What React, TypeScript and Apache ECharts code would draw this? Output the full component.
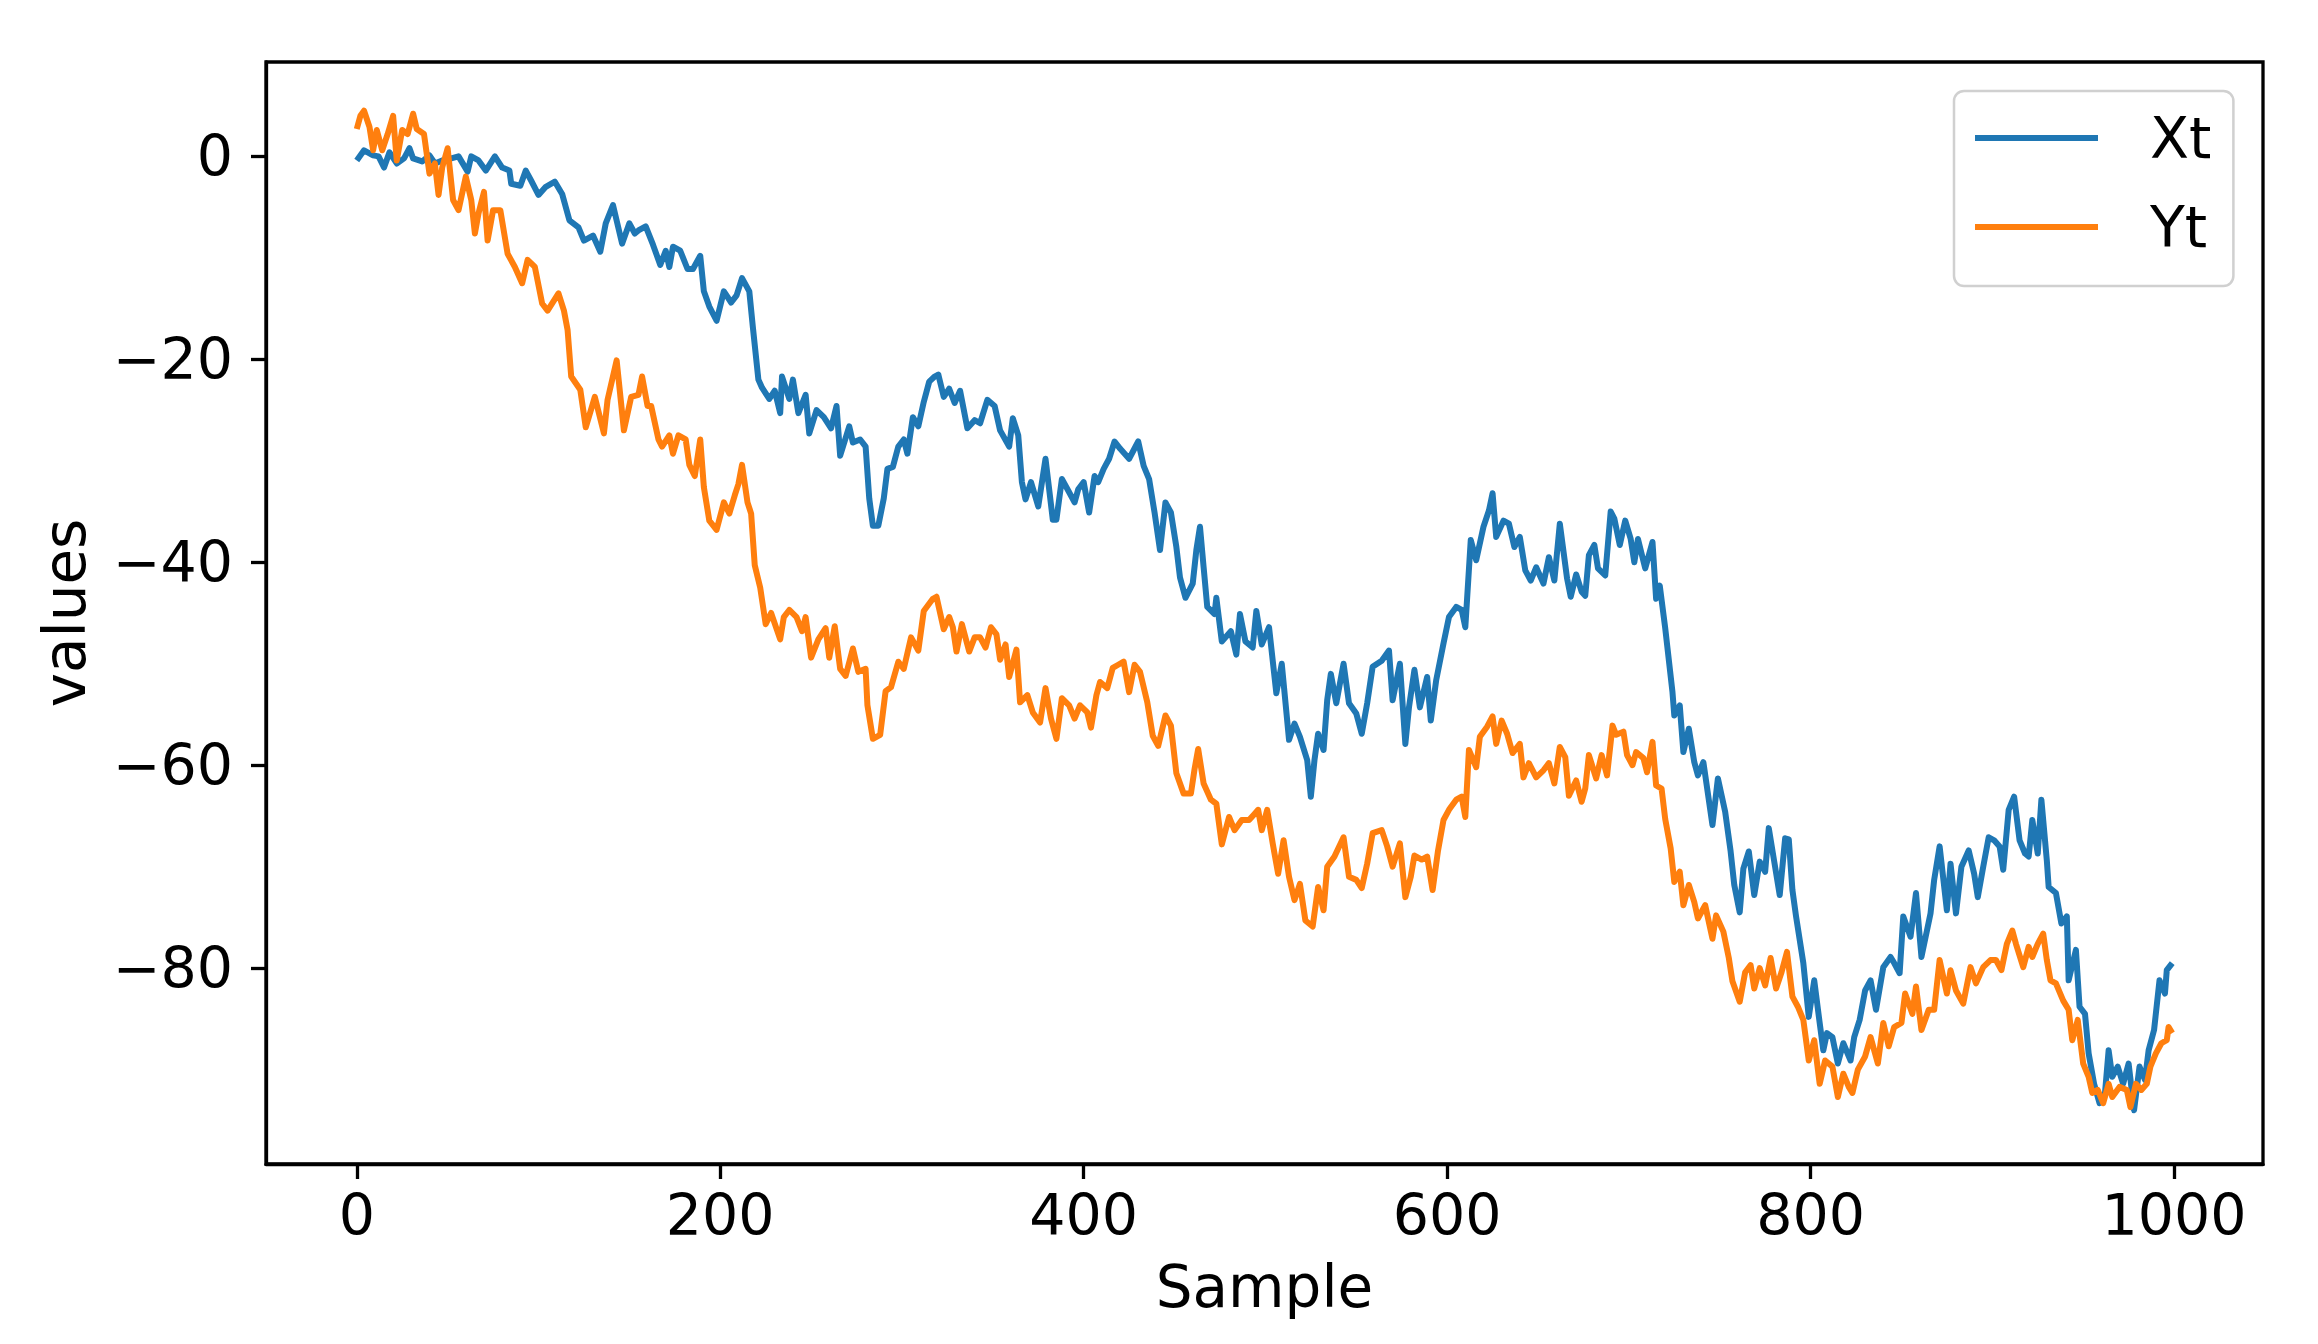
import React, { useEffect, useRef } from "react";
import * as echarts from "echarts";

const seriesNames = ["Xt", "Yt"];
const seriesColors = ["#1f77b4", "#ff7f0e"];
const xTickValues = [0, 200, 400, 600, 800, 1000];
const yTickValues = [-80, -60, -40, -20, 0];
const xAxisTitle = "Sample";
const yAxisTitle = "values";

// [sample, value]
const xtPoints = [
  [0,-0.4],[4,0.6],[9,0.1],[12,0],[15,-1.1],[18,0.4],[22,-0.7],[26,-0.2],[29,0.8],[31,-0.2],[36,-0.5],[40,0.1],[43,-0.7],[47,-0.4],[52,-0.2],[56,0],[61,-1.5],[63,0],[67,-0.4],[71,-1.4],[76,0],[80,-1.1],[84,-1.4],[85,-2.7],[90,-2.9],[93,-1.4],[96,-2.4],[100,-3.8],[104,-3.0],[109,-2.5],[113,-3.7],[117,-6.3],[122,-7.0],[125,-8.3],[130,-7.8],[134,-9.4],[137,-6.6],[141,-4.8],[146,-8.6],[150,-6.6],[153,-7.6],[155,-7.3],[159,-6.9],[163,-8.7],[167,-10.7],[170,-9.3],[172,-10.9],[174,-8.9],[178,-9.3],[182,-11.1],[185,-11.1],[189,-9.8],[191,-13.3],[194,-14.8],[198,-16.2],[202,-13.3],[206,-14.4],[209,-13.7],[212,-12.0],[216,-13.3],[218,-16.9],[221,-22.0],[223,-22.8],[227,-23.9],[230,-23.1],[233,-25.3],[234,-21.7],[238,-23.9],[240,-22.0],[243,-25.3],[247,-23.5],[249,-27.3],[253,-25.0],[257,-25.7],[261,-26.8],[264,-24.6],[266,-29.5],[271,-26.6],[273,-28.2],[277,-27.9],[280,-28.6],[282,-33.7],[284,-36.4],[287,-36.4],[290,-33.7],[292,-30.8],[295,-30.6],[298,-28.6],[301,-27.9],[303,-29.3],[306,-25.7],[309,-26.6],[312,-24.2],[315,-22.2],[318,-21.7],[320,-21.5],[323,-23.7],[326,-22.9],[329,-24.3],[332,-23.1],[336,-26.8],[340,-26.0],[343,-26.3],[347,-24.0],[351,-24.6],[354,-27.0],[359,-28.6],[361,-25.8],[364,-27.5],[366,-32.1],[368,-33.8],[371,-32.1],[375,-34.5],[379,-29.8],[383,-35.8],[385,-35.8],[388,-31.8],[392,-33.1],[395,-34.1],[397,-32.8],[400,-32.1],[403,-35.1],[406,-31.5],[408,-32.1],[411,-30.8],[414,-29.8],[417,-28.1],[420,-28.8],[425,-29.8],[430,-28.1],[433,-30.5],[436,-31.8],[439,-35.1],[442,-38.8],[445,-34.1],[448,-35.1],[451,-38.5],[453,-41.5],[456,-43.5],[460,-42.1],[462,-38.8],[464,-36.5],[466,-40.5],[468,-44.4],[472,-45.1],[473,-43.5],[476,-47.8],[481,-46.8],[484,-49.1],[486,-45.1],[489,-47.8],[493,-48.4],[495,-44.8],[498,-48.1],[502,-46.4],[506,-52.9],[509,-50.0],[513,-57.5],[516,-55.9],[519,-57.2],[523,-59.5],[525,-63.1],[527,-59.5],[529,-56.9],[532,-58.5],[534,-53.6],[536,-51.0],[539,-53.9],[543,-50.0],[546,-53.9],[550,-54.9],[553,-56.9],[556,-53.9],[559,-50.3],[564,-49.7],[568,-48.7],[570,-53.6],[574,-50.0],[577,-57.9],[579,-54.3],[582,-50.6],[585,-54.3],[589,-51.3],[591,-55.6],[594,-51.6],[598,-48.0],[601,-45.4],[605,-44.4],[608,-44.7],[610,-46.4],[613,-37.8],[616,-39.8],[620,-36.5],[623,-34.9],[625,-33.2],[627,-37.5],[631,-35.9],[634,-36.2],[637,-38.5],[640,-37.5],[643,-40.8],[646,-41.8],[649,-40.5],[653,-42.1],[656,-39.5],[659,-41.8],[662,-36.2],[666,-41.6],[668,-43.4],[671,-41.2],[674,-42.9],[676,-43.3],[678,-39.3],[681,-38.3],[683,-40.6],[687,-41.3],[690,-35.0],[692,-35.7],[695,-38.3],[698,-35.9],[701,-37.7],[703,-40.0],[705,-37.7],[709,-40.6],[713,-38.0],[715,-43.6],[717,-42.3],[720,-46.5],[724,-52.8],[725,-55.1],[728,-54.1],[730,-58.7],[733,-56.4],[736,-59.7],[738,-61.0],[741,-59.7],[746,-65.9],[749,-61.3],[753,-64.6],[756,-68.5],[758,-71.8],[761,-74.5],[763,-70.2],[766,-68.5],[769,-72.8],[772,-69.5],[775,-70.5],[777,-66.2],[780,-69.5],[783,-72.8],[786,-67.2],[788,-67.3],[790,-72.3],[792,-74.9],[796,-79.5],[799,-84.8],[802,-81.2],[805,-85.4],[807,-88.1],[809,-86.4],[812,-86.8],[815,-89.4],[818,-87.4],[822,-89.1],[824,-86.8],[827,-85.1],[830,-82.2],[833,-81.2],[836,-84.1],[840,-79.9],[844,-78.9],[846,-79.5],[849,-80.5],[851,-74.9],[855,-76.9],[858,-72.6],[861,-78.9],[866,-74.6],[868,-71.3],[871,-68.0],[875,-74.3],[877,-69.7],[880,-74.6],[883,-70.0],[887,-68.4],[890,-70.7],[892,-73.0],[895,-70.0],[898,-67.1],[901,-67.4],[904,-68.0],[906,-70.3],[909,-64.4],[912,-63.1],[915,-67.4],[918,-68.7],[920,-69.0],[922,-65.4],[925,-68.7],[927,-63.4],[930,-69.4],[931,-72.0],[935,-72.6],[938,-75.6],[941,-74.9],[942,-81.2],[946,-78.2],[948,-83.8],[951,-84.5],[953,-88.4],[956,-91.4],[959,-93.3],[962,-92.3],[964,-88.1],[966,-90.7],[969,-89.7],[972,-91.4],[975,-89.4],[978,-94.0],[981,-89.7],[984,-91.0],[986,-88.1],[989,-86.1],[992,-81.2],[995,-82.5],[996,-80.2],[999,-79.5]
];

const ytPoints = [
  [0,2.7],[2,4.0],[4,4.5],[7,2.9],[9,0.6],[11,2.6],[14,0.6],[17,2.2],[20,4.0],[22,-0.4],[25,2.6],[28,2.2],[31,4.2],[33,2.7],[37,2.2],[40,-1.7],[43,-0.7],[45,-3.8],[47,-1.1],[50,0.8],[53,-4.3],[56,-5.3],[60,-2.0],[63,-4.3],[65,-7.6],[67,-5.6],[70,-3.5],[72,-8.3],[75,-5.3],[79,-5.3],[83,-9.6],[87,-10.9],[91,-12.5],[94,-10.2],[98,-10.9],[102,-14.5],[105,-15.2],[111,-13.5],[114,-15.2],[116,-17.1],[118,-21.7],[123,-23.0],[126,-26.7],[131,-23.7],[136,-27.3],[138,-24.0],[143,-20.1],[147,-27.0],[151,-23.7],[155,-23.5],[157,-21.7],[160,-24.6],[162,-24.6],[166,-27.9],[168,-28.6],[172,-27.5],[174,-29.3],[177,-27.5],[181,-27.9],[183,-30.4],[186,-31.5],[189,-27.9],[191,-32.6],[194,-35.9],[198,-36.8],[202,-34.1],[205,-35.2],[208,-33.4],[210,-32.3],[212,-30.4],[215,-34.1],[217,-35.2],[219,-40.3],[222,-42.5],[225,-46.1],[228,-45.0],[233,-47.6],[235,-45.4],[238,-44.7],[242,-45.4],[245,-46.8],[247,-45.4],[250,-49.4],[254,-47.6],[258,-46.5],[260,-49.4],[263,-46.3],[266,-50.5],[269,-51.2],[273,-48.5],[276,-50.8],[280,-50.5],[281,-54.1],[284,-57.4],[288,-57.0],[291,-52.7],[294,-52.3],[298,-49.8],[301,-50.5],[305,-47.4],[309,-48.7],[312,-44.8],[317,-43.6],[319,-43.4],[323,-46.6],[326,-45.4],[328,-46.4],[330,-48.8],[333,-46.1],[337,-48.8],[340,-47.4],[343,-47.4],[346,-48.4],[349,-46.4],[352,-47.1],[354,-49.6],[357,-48.1],[359,-51.3],[363,-48.6],[365,-53.8],[369,-53.1],[372,-54.8],[376,-55.8],[379,-52.4],[382,-55.4],[385,-57.4],[388,-53.4],[392,-54.1],[395,-55.4],[398,-54.1],[402,-54.8],[404,-56.3],[407,-53.1],[409,-51.8],[413,-52.4],[416,-50.4],[419,-50.1],[422,-49.8],[425,-52.8],[428,-50.1],[431,-50.8],[435,-53.8],[438,-57.1],[441,-58.1],[445,-55.1],[448,-56.1],[451,-60.8],[455,-62.8],[459,-62.8],[461,-60.4],[463,-58.4],[466,-61.8],[470,-63.4],[473,-63.8],[476,-67.8],[480,-65.1],[483,-66.4],[487,-65.4],[491,-65.4],[494,-64.8],[496,-64.4],[498,-66.4],[501,-64.4],[504,-67.7],[507,-70.7],[510,-67.4],[513,-71.0],[516,-73.3],[519,-71.7],[522,-75.3],[526,-75.9],[529,-72.0],[532,-74.3],[534,-70.0],[538,-69.0],[543,-67.1],[546,-71.0],[550,-71.3],[553,-72.1],[556,-69.7],[559,-66.7],[564,-66.4],[567,-68.0],[570,-70.0],[574,-67.7],[577,-73.0],[580,-71.0],[582,-68.9],[586,-69.3],[589,-69.0],[592,-72.3],[595,-68.4],[598,-65.4],[601,-64.4],[605,-63.4],[608,-63.1],[610,-65.1],[612,-58.5],[616,-60.2],[618,-57.2],[622,-56.2],[625,-55.2],[627,-57.9],[630,-55.6],[633,-56.9],[636,-58.8],[640,-57.9],[642,-61.2],[645,-59.8],[649,-61.2],[653,-60.5],[656,-59.8],[659,-61.8],[662,-58.2],[665,-59.2],[667,-63.0],[671,-61.5],[674,-63.6],[676,-62.3],[678,-59.0],[682,-61.3],[685,-59.0],[688,-61.0],[691,-56.1],[693,-57.0],[697,-56.7],[699,-59.0],[702,-60.0],[704,-58.7],[708,-59.3],[710,-60.7],[713,-57.7],[715,-62.0],[718,-62.3],[720,-65.3],[723,-68.2],[725,-71.5],[728,-70.5],[730,-73.8],[733,-71.8],[736,-73.5],[738,-75.1],[742,-73.8],[746,-77.1],[748,-74.8],[752,-76.4],[755,-79.0],[757,-81.3],[761,-83.3],[764,-80.4],[767,-79.7],[769,-82.0],[772,-80.0],[775,-81.7],[778,-79.0],[781,-82.0],[784,-80.4],[787,-78.4],[790,-82.8],[793,-83.8],[796,-85.1],[799,-89.1],[802,-87.1],[805,-91.4],[808,-89.1],[812,-89.7],[815,-92.7],[818,-90.4],[821,-91.7],[823,-92.3],[826,-90.0],[830,-88.7],[833,-86.8],[837,-89.4],[840,-85.4],[843,-87.7],[846,-85.8],[850,-85.4],[852,-82.5],[856,-84.5],[858,-81.8],[861,-86.1],[865,-84.1],[868,-84.1],[871,-79.2],[875,-82.5],[877,-80.2],[880,-82.2],[884,-83.5],[888,-79.9],[891,-81.5],[895,-79.9],[899,-79.2],[902,-79.2],[905,-80.2],[908,-77.6],[911,-76.3],[913,-77.6],[917,-79.9],[920,-77.9],[922,-78.9],[925,-77.6],[928,-76.6],[930,-79.2],[932,-81.2],[935,-81.5],[939,-83.2],[942,-84.1],[944,-87.1],[947,-85.1],[950,-89.4],[953,-90.7],[955,-92.3],[958,-92.0],[961,-93.3],[964,-91.4],[966,-92.7],[970,-91.7],[974,-92.0],[976,-93.7],[979,-91.4],[982,-92.0],[985,-91.4],[987,-89.7],[990,-88.4],[993,-87.4],[996,-87.1],[997,-85.8],[999,-86.4]
];

const FONT = "'DejaVu Sans', Verdana, sans-serif";

function fmt(v: number) {
  return v < 0 ? "\u2212" + Math.abs(v) : String(v);
}

function buildOption() {
  const axisLineStyle = { color: "#000", width: 3.3 };
  return {
    animation: false,
    backgroundColor: "#ffffff",
    textStyle: { fontFamily: FONT },
    grid: {
      left: 266,
      top: 62,
      width: 1997,
      height: 1102,
      show: true,
      borderColor: "#000",
      borderWidth: 3.3,
      backgroundColor: "transparent",
      containLabel: false,
    },
    legend: {
      data: seriesNames,
      orient: "vertical",
      left: 1954,
      top: 91,
      icon: "rect",
      itemWidth: 123,
      itemHeight: 6,
      itemGap: 29,
      padding: [17, 22, 29, 21],
      backgroundColor: "rgba(255,255,255,0.8)",
      borderColor: "#d0d0d0",
      borderWidth: 2.5,
      borderRadius: 10,
      selectedMode: false,
      textStyle: {
        fontFamily: FONT,
        fontSize: 57,
        color: "#000",
        lineHeight: 60,
        padding: [0, 0, 0, 47],
      },
    },
    xAxis: {
      type: "value",
      min: -49.95,
      max: 1048.95,
      name: xAxisTitle,
      nameLocation: "middle",
      nameGap: 94,
      nameTextStyle: { fontFamily: FONT, fontSize: 58, color: "#000" },
      axisLine: { show: true, onZero: false, lineStyle: axisLineStyle },
      axisTick: { show: true, length: 15, lineStyle: axisLineStyle, customValues: xTickValues },
      axisLabel: {
        customValues: xTickValues,
        fontFamily: FONT,
        fontSize: 57,
        color: "#000",
        margin: 22,
        formatter: (v: number) => fmt(v),
      },
      splitLine: { show: false },
    },
    yAxis: {
      type: "value",
      min: -99.3,
      max: 9.3,
      name: yAxisTitle,
      nameLocation: "middle",
      nameRotate: 90,
      nameGap: 172,
      nameTextStyle: { fontFamily: FONT, fontSize: 58, color: "#000" },
      axisLine: { show: true, onZero: false, lineStyle: axisLineStyle },
      axisTick: { show: true, length: 15, lineStyle: axisLineStyle, customValues: yTickValues },
      axisLabel: {
        customValues: yTickValues,
        fontFamily: FONT,
        fontSize: 57,
        color: "#000",
        margin: 33,
        formatter: (v: number) => fmt(v),
      },
      splitLine: { show: false },
    },
    series: [xtPoints, ytPoints].map((pts, i) => ({
      name: seriesNames[i],
      type: "line",
      data: pts,
      showSymbol: false,
      symbol: "none",
      clip: true,
      color: seriesColors[i],
      itemStyle: { color: seriesColors[i] },
      lineStyle: { color: seriesColors[i], width: 6, join: "round" },
      z: 2 + i,
    })),
  };
}

export default function App() {
  const ref = useRef<HTMLDivElement>(null);
  useEffect(() => {
    if (!ref.current) return;
    const chart = echarts.init(ref.current, null, { renderer: "svg" });
    chart.setOption(buildOption() as any);
    return () => {
      chart.dispose();
    };
  }, []);
  return (
    <div
      ref={ref}
      style={{ position: "absolute", left: 0, top: 0, width: 2318, height: 1344, background: "#fff" }}
    />
  );
}
